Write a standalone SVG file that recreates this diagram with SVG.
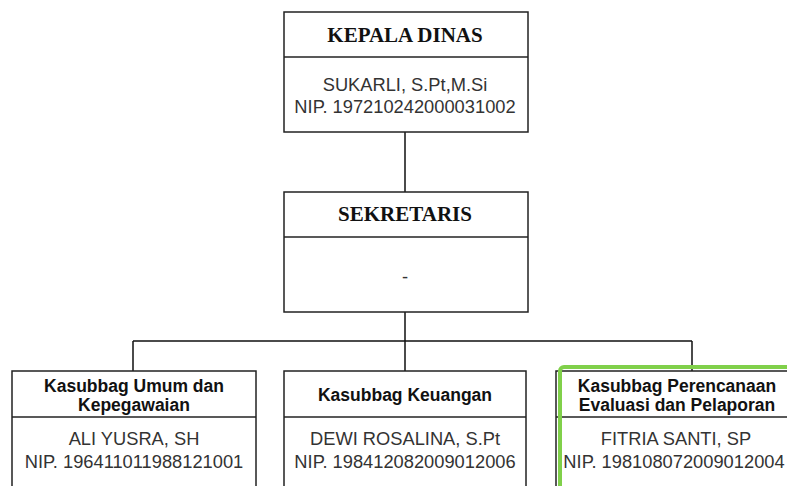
<svg xmlns="http://www.w3.org/2000/svg" width="787" height="486" viewBox="0 0 787 486">
<style>
.box{fill:#fff;stroke:#222;stroke-width:1.5}
.div{stroke:#222;stroke-width:1.5}
.conn{stroke:#111;stroke-width:1.5;fill:none}
.t1{font-family:"Liberation Serif","Times New Roman",serif;font-weight:bold;font-size:21px;fill:#111;text-anchor:middle;dominant-baseline:central}
.t2{font-family:"Liberation Sans",Arial,sans-serif;font-weight:bold;font-size:17.5px;fill:#111;text-anchor:middle;dominant-baseline:central}
.t3{font-family:"Liberation Sans",Arial,sans-serif;font-size:18.3px;fill:#333;text-anchor:middle;dominant-baseline:central}
</style>
<rect width="787" height="486" fill="#fff"/>
<g id="connectors">
<path class="conn" d="M405 132V192M405 312V341M133 341H692M133 341V371M405 341V371M692 341V371"/>
</g>
<g id="kepala">
<rect class="box" x="284" y="12" width="244" height="120"/>
<line class="div" x1="284" y1="57" x2="528" y2="57"/>
<text class="t1" x="405" y="35">KEPALA DINAS</text>
<text class="t3" x="405" y="84">SUKARLI, S.Pt,M.Si</text>
<text class="t3" x="405" y="106">NIP. 197210242000031002</text>
</g>
<g id="sekretaris">
<rect class="box" x="284" y="192" width="244" height="120"/>
<line class="div" x1="284" y1="237" x2="528" y2="237"/>
<text class="t1" x="405" y="214">SEKRETARIS</text>
<text class="t3" x="405" y="276">-</text>
</g>
<g id="umum">
<rect class="box" x="12" y="371" width="244" height="130"/>
<line class="div" x1="12" y1="417" x2="256" y2="417"/>
<text class="t2" x="134" y="386">Kasubbag Umum dan</text>
<text class="t2" x="134" y="405">Kepegawaian</text>
<text class="t3" x="134" y="438">ALI YUSRA, SH</text>
<text class="t3" x="134" y="461">NIP. 196411011988121001</text>
</g>
<g id="keuangan">
<rect class="box" x="284" y="371" width="242" height="130"/>
<line class="div" x1="284" y1="417" x2="526" y2="417"/>
<text class="t2" x="405" y="395">Kasubbag Keuangan</text>
<text class="t3" x="405" y="438">DEWI ROSALINA, S.Pt</text>
<text class="t3" x="405" y="461">NIP. 198412082009012006</text>
</g>
<g id="perencanaan">
<rect class="box" x="556" y="371" width="244" height="130"/>
<line class="div" x1="556" y1="417" x2="800" y2="417"/>
<rect x="560" y="367" width="260" height="140" rx="4" fill="none" stroke="#80d04a" stroke-width="4"/>
<text class="t2" x="677" y="386">Kasubbag Perencanaan</text>
<text class="t2" x="677" y="405">Evaluasi dan Pelaporan</text>
<text class="t3" x="676" y="438">FITRIA SANTI, SP</text>
<text class="t3" x="674" y="461">NIP. 198108072009012004</text>
</g>
</svg>
